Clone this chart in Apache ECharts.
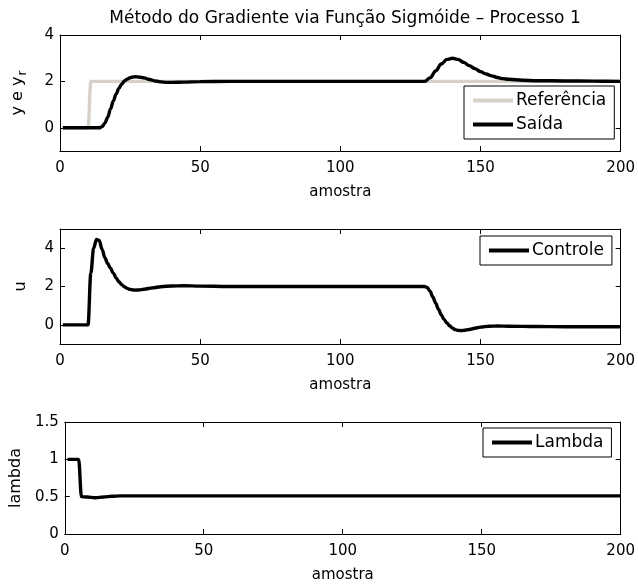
<!DOCTYPE html>
<html>
<head>
<meta charset="utf-8">
<script src="https://cdn.jsdelivr.net/npm/echarts@6/dist/echarts.min.js"></script>
<style>
  html, body { margin: 0; padding: 0; background: #fff; }
  #chart { width: 638px; height: 584px; }
</style>
</head>
<body>
<div id="chart"></div>
<script>
// Simulated response of process 1 under the sigmoid-gradient tuning method.
// Each series is a list of [amostra, valor] pairs.

const tituloGrafico = 'Método do Gradiente via Função Sigmóide – Processo 1';
const ticksX = [0, 50, 100, 150, 200];
const ticksSaida = [0, 2, 4];
const ticksControle = [0, 2, 4];
const ticksLambda = [0, 0.5, 1, 1.5];

const referencia = [
  [1, 0], [10, 0], [11, 2], [200, 2]
];

const saida = [
  [1, 0], [14, 0], [15, 0.05], [16, 0.2], [17, 0.45], [18, 0.8], [19, 1.15],
  [20, 1.45], [21, 1.7], [22, 1.88], [23, 2.02], [24, 2.1], [25, 2.16],
  [26, 2.19], [27, 2.2], [28, 2.19], [30, 2.15], [32, 2.08], [34, 2.02],
  [36, 1.98], [38, 1.96], [40, 1.96], [44, 1.97], [50, 1.99], [60, 2.0],
  [130, 2.0], [132, 2.15], [134, 2.45], [136, 2.75], [138, 2.95], [140, 3.0],
  [142, 2.95], [144, 2.82], [146, 2.68], [148, 2.55], [150, 2.42], [152, 2.32],
  [154, 2.24], [156, 2.17], [158, 2.12], [160, 2.09], [165, 2.05], [170, 2.03],
  [180, 2.02], [190, 2.01], [200, 2.0]
];

const controle = [
  [1, 0], [10, 0], [11, 2.7], [12, 4.0], [13, 4.45], [14, 4.4], [15, 3.95],
  [16, 3.5], [17, 3.2], [18, 2.95], [19, 2.7], [20, 2.45], [21, 2.25],
  [22, 2.1], [23, 1.98], [24, 1.9], [25, 1.85], [26, 1.82], [27, 1.81],
  [28, 1.82], [30, 1.86], [33, 1.93], [36, 1.99], [40, 2.03], [44, 2.04],
  [50, 2.02], [60, 2.0], [130, 2.0], [131, 1.95], [132, 1.75], [133, 1.45],
  [134, 1.13], [135, 0.82], [136, 0.52], [137, 0.28], [138, 0.1], [139, -0.05],
  [140, -0.17], [141, -0.25], [142, -0.29], [143, -0.3], [144, -0.29],
  [146, -0.24], [148, -0.18], [150, -0.12], [153, -0.07], [156, -0.06],
  [160, -0.07], [170, -0.09], [180, -0.1], [200, -0.1]
];

const lambda = [
  [1, 1], [5, 1], [6, 0.5], [8, 0.495], [11, 0.485], [14, 0.495],
  [17, 0.505], [20, 0.51], [200, 0.51]
];

const FONTE = 'DejaVu Sans';
const COR_REF = '#d6d2ca';

const grids = [
  { left: 60, width: 561, top: 35, height: 116 },
  { left: 60, width: 561, top: 229, height: 115 },
  { left: 60, width: 561, top: 422, height: 115 }
];

const linhaEixo = { show: true, onZero: false, lineStyle: { color: '#000', width: 1 } };
const textoEixo = { color: '#000', fontFamily: FONTE, fontSize: 15 };

function eixoX(gi, inferior) {
  return {
    type: 'value', gridIndex: gi, min: 0, max: 200, interval: 50,
    position: inferior ? 'bottom' : 'top',
    axisLine: linhaEixo,
    axisTick: { show: true, inside: true, length: 5, lineStyle: { color: '#000' } },
    axisLabel: Object.assign({ show: inferior, margin: 10 }, textoEixo),
    splitLine: { show: false },
    name: inferior ? 'amostra' : '',
    nameLocation: 'middle', nameGap: 34,
    nameTextStyle: textoEixo
  };
}

function eixoY(gi, esquerdo, min, max, ticks, nome, gap, rich) {
  const ax = {
    type: 'value', gridIndex: gi, min: min, max: max,
    position: esquerdo ? 'left' : 'right',
    axisLine: linhaEixo,
    axisTick: { show: true, inside: true, length: 5, customValues: ticks, lineStyle: { color: '#000' } },
    axisLabel: Object.assign({ show: esquerdo, margin: 6, customValues: ticks }, textoEixo),
    splitLine: { show: false }
  };
  if (esquerdo) {
    ax.name = nome;
    ax.nameLocation = 'middle';
    ax.nameGap = gap;
    ax.nameRotate = 90;
    ax.nameTextStyle = Object.assign({}, textoEixo, { fontSize: 16 }, rich ? { rich: rich } : {});
  }
  return ax;
}

const richYr = {
  n: { fontFamily: FONTE, fontSize: 16, color: '#000' },
  s: { fontFamily: FONTE, fontSize: 12, color: '#000', padding: [10, 0, 0, 1] }
};

const xAxes = [
  eixoX(0, true), eixoX(1, true), eixoX(2, true),
  eixoX(0, false), eixoX(1, false), eixoX(2, false)
];
const yAxes = [
  eixoY(0, true, -1, 4, ticksSaida, '{n|y e y}{s|r}', 31, richYr),
  eixoY(1, true, -1, 5, ticksControle, 'u', 31),
  eixoY(2, true, 0, 1.5, ticksLambda, 'lambda', 39),
  eixoY(0, false, -1, 4, ticksSaida),
  eixoY(1, false, -1, 5, ticksControle),
  eixoY(2, false, 0, 1.5, ticksLambda)
];

function serie(nome, dados, gi, cor, z) {
  return {
    name: nome, type: 'line', data: dados,
    xAxisIndex: gi, yAxisIndex: gi,
    showSymbol: false, symbol: 'none',
    smooth: 0.35, smoothMonotone: 'x',
    color: cor, z: z,
    lineStyle: { color: cor, width: 3.4 },
    animation: false
  };
}

function legenda(itens, left, top) {
  return {
    data: itens, left: left, top: top, orient: 'vertical',
    selectedMode: false,
    backgroundColor: '#fff', borderColor: '#000', borderWidth: 1, borderRadius: 0,
    padding: [6, 8, 6, 9], itemGap: 7,
    icon: 'rect', itemWidth: 40, itemHeight: 4,
    textStyle: { color: '#000', fontFamily: FONTE, fontSize: 17, padding: [0, 0, 0, -2] }
  };
}

const chart = echarts.init(document.getElementById('chart'), null, { renderer: 'canvas' });
chart.setOption({
  backgroundColor: '#fff',
  animation: false,
  title: {
    text: tituloGrafico, left: 340, top: 5, textAlign: 'center',
    textStyle: { color: '#000', fontFamily: FONTE, fontSize: 17, fontWeight: 'normal' }
  },
  grid: grids,
  xAxis: xAxes,
  yAxis: yAxes,
  legend: [
    legenda(['Referência', 'Saída'], 464, 86),
    legenda(['Controle'], 480, 236),
    legenda(['Lambda'], 483, 428)
  ],
  series: [
    serie('Referência', referencia, 0, COR_REF, 2),
    serie('Saída', saida, 0, '#000', 3),
    serie('Controle', controle, 1, '#000', 3),
    serie('Lambda', lambda, 2, '#000', 3)
  ]
});
</script>
</body>
</html>
